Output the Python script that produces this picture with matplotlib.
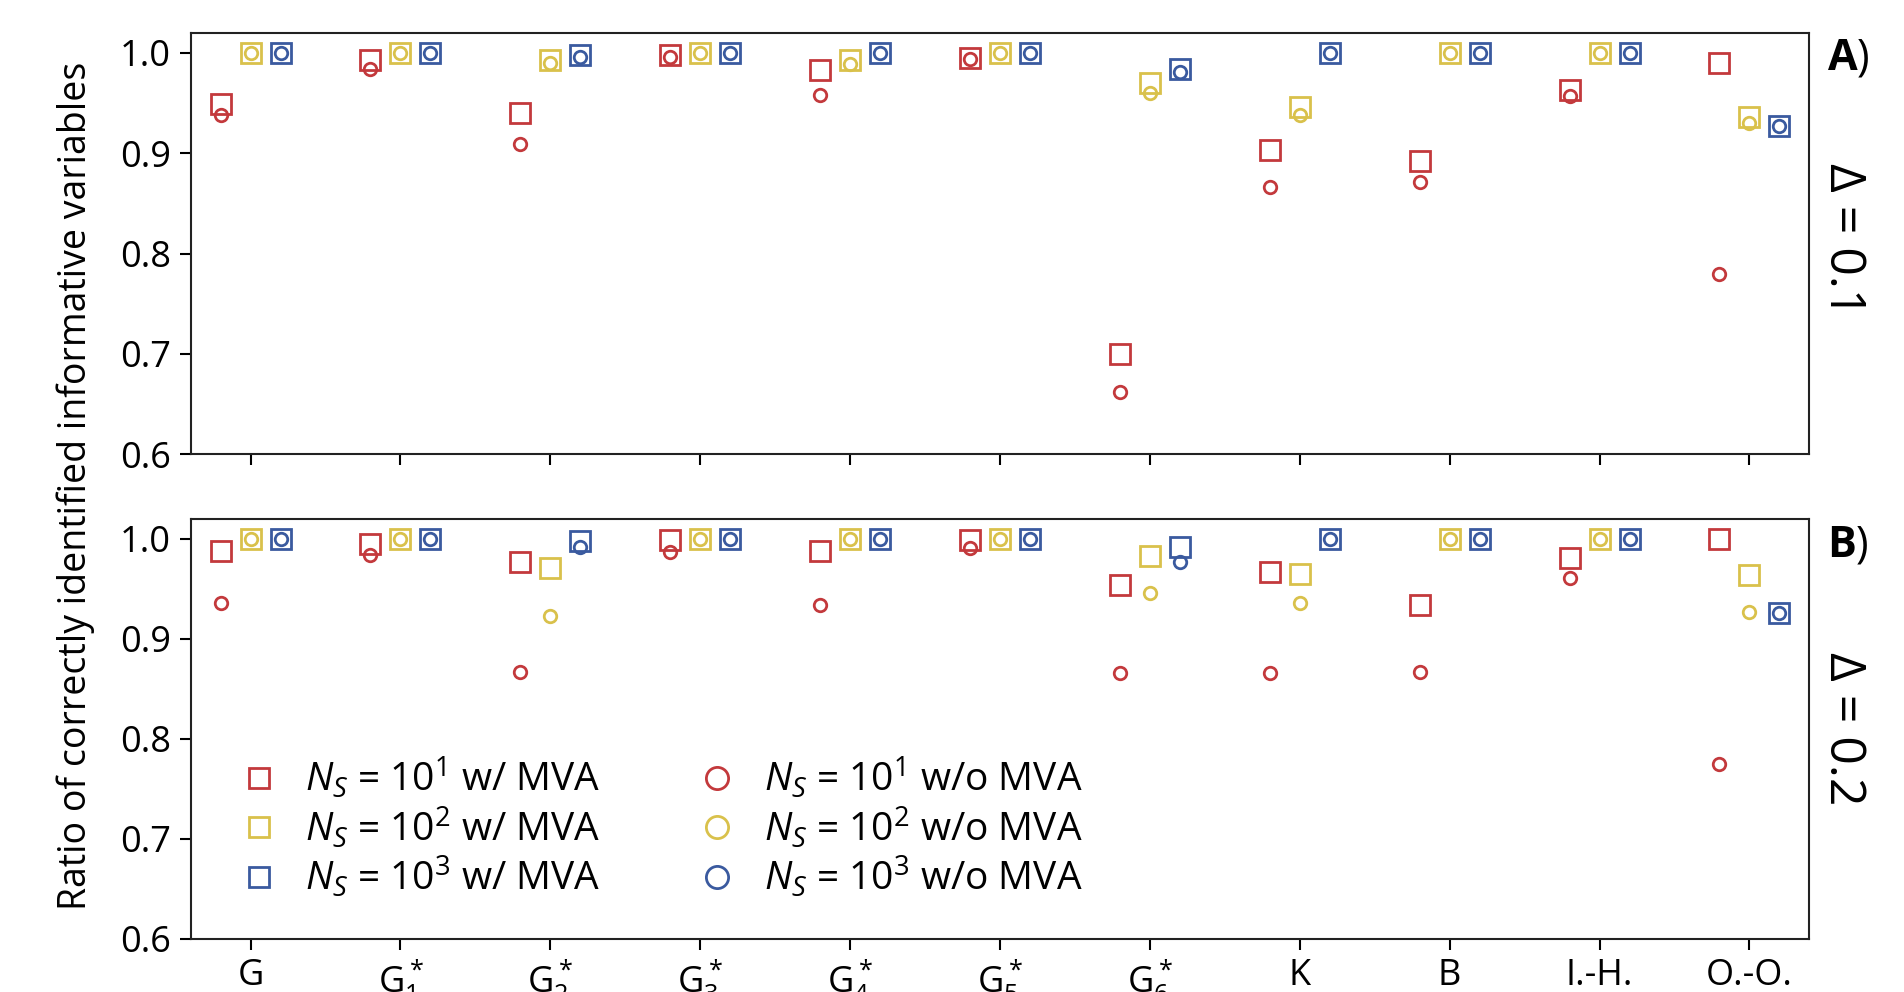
import matplotlib
matplotlib.use("Agg")
import matplotlib.pyplot as plt
from matplotlib.lines import Line2D

plt.rcParams['font.family'] = ['Open Sans', 'DejaVu Sans']
plt.rcParams['mathtext.fontset'] = 'custom'
plt.rcParams['mathtext.rm'] = 'Open Sans'
plt.rcParams['mathtext.it'] = 'Open Sans:italic'
plt.rcParams['mathtext.bf'] = 'Open Sans:bold'

# categories (x tick labels)
categories = ['G', r'G$_1^*$', r'G$_2^*$', r'G$_3^*$', r'G$_4^*$', r'G$_5^*$',
              r'G$_6^*$', 'K', 'B', 'I.-H.', 'O.-O.']

# Panel A (delta = 0.1)
a_sq_1e1 = [0.949, 0.993, 0.940, 0.998, 0.983, 0.995, 0.700, 0.903, 0.892, 0.963, 0.990]
a_ci_1e1 = [0.938, 0.984, 0.909, 0.996, 0.958, 0.994, 0.662, 0.866, 0.871, 0.957, 0.780]
a_sq_1e2 = [1.000, 1.000, 0.993, 1.000, 0.993, 1.000, 0.970, 0.946, 1.000, 1.000, 0.936]
a_ci_1e2 = [1.000, 1.000, 0.990, 1.000, 0.989, 1.000, 0.960, 0.938, 1.000, 1.000, 0.930]
a_sq_1e3 = [1.000, 1.000, 0.998, 1.000, 1.000, 1.000, 0.984, 1.000, 1.000, 1.000, 0.927]
a_ci_1e3 = [1.000, 1.000, 0.996, 1.000, 1.000, 1.000, 0.981, 1.000, 1.000, 1.000, 0.927]

# Panel B (delta = 0.2)
b_sq_1e1 = [0.988, 0.995, 0.977, 0.999, 0.988, 0.999, 0.954, 0.967, 0.934, 0.981, 1.000]
b_ci_1e1 = [0.936, 0.984, 0.867, 0.987, 0.934, 0.991, 0.866, 0.866, 0.867, 0.961, 0.775]
b_sq_1e2 = [1.000, 1.000, 0.971, 1.000, 1.000, 1.000, 0.983, 0.965, 1.000, 1.000, 0.964]
b_ci_1e2 = [1.000, 1.000, 0.923, 1.000, 1.000, 1.000, 0.946, 0.936, 1.000, 1.000, 0.927]
b_sq_1e3 = [1.000, 1.000, 0.998, 1.000, 1.000, 1.000, 0.992, 1.000, 1.000, 1.000, 0.926]
b_ci_1e3 = [1.000, 1.000, 0.992, 1.000, 1.000, 1.000, 0.977, 1.000, 1.000, 1.000, 0.926]

red = '#C3393C'
yellow = '#D9C14B'
blue = '#3A5A9F'
colors = [red, yellow, blue]
offsets = [-0.2, 0.0, 0.2]

fig = plt.figure(figsize=(19.04, 9.92), dpi=100)
fig.patch.set_facecolor('white')
ax_a = fig.add_axes([0.1001, 0.5422, 0.8502, 0.4247])
ax_b = fig.add_axes([0.1001, 0.0537, 0.8502, 0.4236])

x = list(range(len(categories)))


def draw(ax, squares, circles):
    for sq, ci, c, off in zip(squares, circles, colors, offsets):
        xs = [i + off for i in x]
        ax.plot(xs, sq, ls='none', marker='s', ms=14, mfc='none', mec=c, mew=2.0, zorder=3)
        ax.plot(xs, ci, ls='none', marker='o', ms=9, mfc='none', mec=c, mew=2.0, zorder=4)
    ax.set_xlim(-0.4, 10.4)
    ax.set_ylim(0.6, 1.02)
    ax.set_yticks([0.6, 0.7, 0.8, 0.9, 1.0])
    ax.set_yticklabels(['0.6', '0.7', '0.8', '0.9', '1.0'])
    ax.set_xticks(x)
    ax.tick_params(direction='out', length=8, width=1.5, labelsize=26, pad=6)
    for s in ax.spines.values():
        s.set_linewidth(1.5)
        s.set_color('#222222')


draw(ax_a, [a_sq_1e1, a_sq_1e2, a_sq_1e3], [a_ci_1e1, a_ci_1e2, a_ci_1e3])
draw(ax_b, [b_sq_1e1, b_sq_1e2, b_sq_1e3], [b_ci_1e1, b_ci_1e2, b_ci_1e3])
ax_a.set_xticklabels([])
ax_b.set_xticklabels(categories)

# legend
labels_sq = [r'$N_S$ = 10$^1$ w/ MVA', r'$N_S$ = 10$^2$ w/ MVA', r'$N_S$ = 10$^3$ w/ MVA']
labels_ci = [r'$N_S$ = 10$^1$ w/o MVA', r'$N_S$ = 10$^2$ w/o MVA', r'$N_S$ = 10$^3$ w/o MVA']
handles = [Line2D([], [], ls='none', marker='s', ms=15, mfc='none', mec=c, mew=2.0) for c in colors]
handles += [Line2D([], [], ls='none', marker='o', ms=16, mfc='none', mec=c, mew=2.0) for c in colors]
ax_b.legend(handles, labels_sq + labels_ci, ncol=2, loc='upper left',
            bbox_to_anchor=(0.006, 0.52), frameon=False, fontsize=28,
            handletextpad=0.6, columnspacing=2.4, labelspacing=0.1, handlelength=1.2)

# side labels
fig.text(0.9595, 0.9415, r'$\mathbf{A}$)', fontsize=31, ha='left', va='center')
fig.text(0.9680, 0.758, 'Δ = 0.1', fontsize=36, rotation=270, ha='center', va='center')
fig.text(0.9595, 0.450, r'$\mathbf{B}$)', fontsize=31, ha='left', va='center')
fig.text(0.9680, 0.265, 'Δ = 0.2', fontsize=36, rotation=270, ha='center', va='center')

fig.text(0.040, 0.510, 'Ratio of correctly identified informative variables',
         fontsize=27, rotation=90, ha='center', va='center')

fig.savefig('out.png', dpi=100, facecolor='white')
